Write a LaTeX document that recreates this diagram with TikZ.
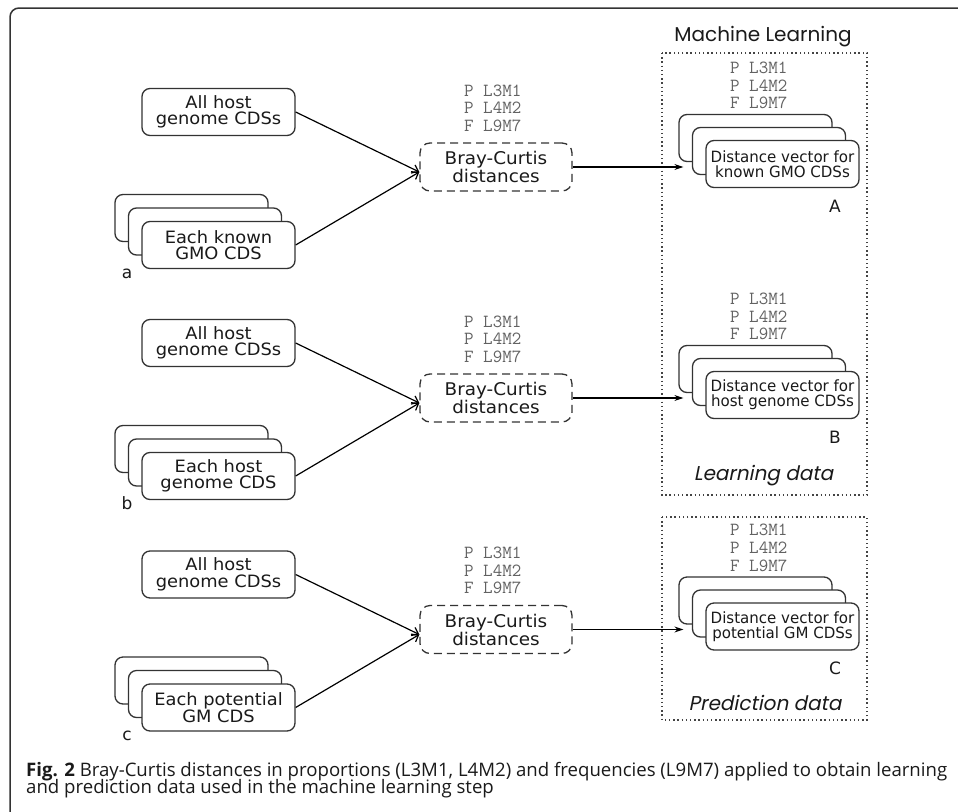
\documentclass[tikz,border=0pt]{standalone}
\usepackage{fontspec}
\setmainfont{DejaVu Sans}
\newfontfamily\leftf[FakeStretch=1.05]{DejaVu Sans}
\newfontfamily\rightf[FakeStretch=0.97]{DejaVu Sans}
\newfontfamily\geof{Poppins}
\newfontfamily\geoitf[FakeSlant=0.2]{Poppins}
\newfontfamily\capf{Open Sans}
\usetikzlibrary{arrows.meta}
\definecolor{boxc}{HTML}{333333}
\definecolor{monoc}{HTML}{626262}
\definecolor{dotc}{HTML}{444444}
\definecolor{txtc}{HTML}{1A1A1A}
\tikzset{
  lbox/.style={draw=boxc, line width=1.3pt, rounded corners=8pt, fill=white,
    minimum width=153pt, minimum height=47pt, inner sep=0pt, align=center,
    text=txtc, font=\leftf\fontsize{17}{16.5}\selectfont},
  rbox/.style={lbox, font=\rightf\fontsize{15.5}{15}\selectfont},
  bcbox/.style={draw=boxc, line width=1.3pt, rounded corners=10pt, dash pattern=on 8pt off 5pt,
    minimum width=152pt, minimum height=48pt, inner sep=0pt, align=center,
    text=txtc, font=\leftf\fontsize{17.5}{15.5}\selectfont},
  monotxt/.style={anchor=base west, text=monoc, font=\ttfamily\fontsize{18.5}{18.5}\selectfont, inner sep=0pt},
  rowlbl/.style={anchor=base, text=txtc, font=\fontsize{17}{17}\selectfont, inner sep=0pt},
  dotbox/.style={draw=dotc, line width=1.6pt, dash pattern=on 1.4pt off 2.8pt},
  inarrow/.style={draw=black, line width=1.2pt, -{Straight Barb[length=6pt,width=9pt,line width=1.2pt]}},
  outarrow/.style={draw=black, line width=1.1pt, -{Stealth[length=9pt,width=6pt]}},
  ttl/.style={anchor=base, text=txtc, inner sep=0pt},
  captxt/.style={anchor=base west, text=txtc, font=\capf\fontsize{18.6}{18.6}\selectfont, inner sep=0pt}
}
\begin{document}
\begin{tikzpicture}[x=1pt,y=-1pt]
\useasboundingbox (0,0) rectangle (958,811);
\fill[white] (0,0) rectangle (958,811);
% outer frame
\draw[line width=1.5pt, draw=boxc, rounded corners=9pt] (10,830) -- (10,8) -- (980,8);

% machine learning boxes
\draw[dotbox] (662,53) rectangle (867,495);
\draw[dotbox] (662,517) rectangle (867,720);
\node[ttl, font=\geof\fontsize{20}{20}\selectfont] (mltitle) at (763,41) {Machine Learning};
\node[ttl, font=\geoitf\fontsize{20}{20}\selectfont] (ldata) at (763.5,480) {Learning data};
\node[ttl, font=\geoitf\fontsize{20}{20}\selectfont] (pdata) at (765,710) {Prediction data};

% ---------- rows ----------
\foreach \r/\dy/\lower/\rtxt/\lab/\ulab in {%
  a/0/{Each known\\GMO CDS}/{Distance vector for\\known GMO CDSs}/a/A,%
  b/231/{Each host\\genome CDS}/{Distance vector for\\host genome CDSs}/b/B,%
  c/462.5/{Each potential\\GM CDS}/{Distance vector for\\potential GM CDSs}/c/C}{
  % all host
  \node[lbox] (host\r) at (218.5,112+\dy) {All host\\genome CDSs};
  % stacked inputs
  \node[lbox] (stk\r3) at (191.5,218+\dy) {};
  \node[lbox] (stk\r2) at (205,231.5+\dy) {};
  \node[lbox] (stk\r1) at (218.5,245+\dy) {\lower};
  \node[rowlbl] (lbl\r) at (127,278+\dy) {\lab};
  % Bray-Curtis
  \node[bcbox] (bc\r) at (496,167+\dy) {Bray-Curtis\\distances};
  \node[monotxt] (mla\r) at (464,96+\dy) {P L3M1};
  \node[monotxt] (mlb\r) at (464,113.5+\dy) {P L4M2};
  \node[monotxt] (mlc\r) at (464,131+\dy) {F L9M7};
  \coordinate (tip\r) at ([yshift=-5pt]bc\r.west);
  \draw[inarrow] (host\r.east) -- (tip\r);
  \draw[inarrow] (stk\r1.east) -- (tip\r);
  % right side
  \node[monotxt] (mra\r) at (730,73+\dy) {P L3M1};
  \node[monotxt] (mrb\r) at (730,91+\dy) {P L4M2};
  \node[monotxt] (mrc\r) at (730,108.5+\dy) {F L9M7};
  \node[rbox] (vec\r3) at (755.5,138+\dy) {};
  \node[rbox] (vec\r2) at (769,151+\dy) {};
  \node[rbox] (vec\r1) at (782.5,164+\dy) {\rtxt};
  \node[rowlbl] (ulbl\r) at (835,212+\dy) {\ulab};
  \coordinate (vin\r) at ([xshift=5pt]vec\r3.west);
  \draw[outarrow] (bc\r.east) -- (vin\r |- bc\r.east);
}

% caption
\node[captxt] (cap1) at (26,776) {\textbf{Fig. 2} Bray-Curtis distances in proportions (L3M1, L4M2) and frequencies (L9M7) applied to obtain learning};
\node[captxt] (cap2) at (26,793) {and prediction data used in the machine learning step};
\end{tikzpicture}
\end{document}
